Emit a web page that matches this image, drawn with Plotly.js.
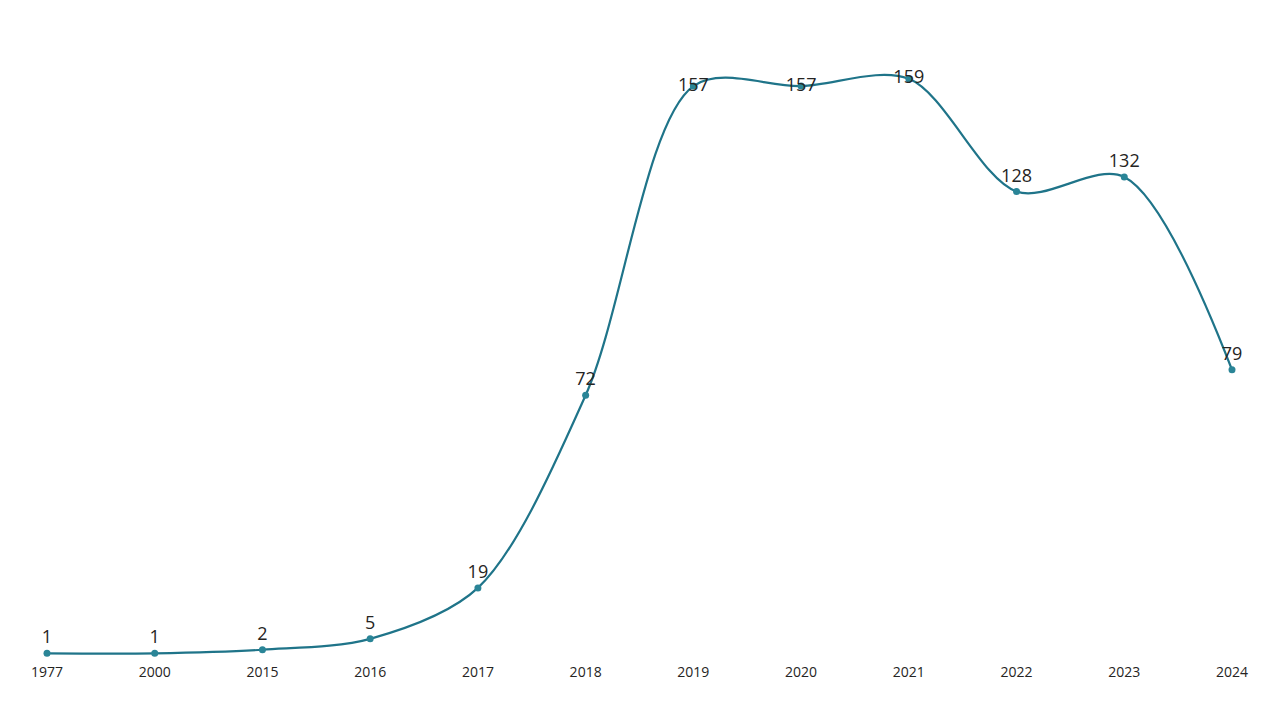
<!DOCTYPE html>
<html><head><meta charset="utf-8">
<script src="https://cdn.plot.ly/plotly-3.0.1.min.js"></script>
<style>html,body{margin:0;padding:0;background:#fff}#chart{width:1280px;height:720px}</style>
</head><body><div id="chart"></div>
<script>
const years = ["1977","2000","2015","2016","2017","2018","2019","2020","2021","2022","2023","2024"];
const counts = [1,1,2,5,19,72,157,157,159,128,132,79];
const labelPositions = ["top center","top center","top center","top center","top center","top center","middle center","middle center","middle center","top center","top center","top center"];

const trace = {
  x: years, y: counts, type: "scatter", mode: "lines+markers+text",
  line: {shape: "spline", smoothing: 0.9, color: "#1f7489", width: 2.2},
  marker: {color: "#2a8597", size: 7},
  text: counts.map(String), textposition: labelPositions,
  textfont: {family: "Open Sans, Noto Sans, sans-serif", size: 18, color: "#252423"},
  cliponaxis: false, hoverinfo: "x+y"
};
const layout = {
  width: 1280, height: 720,
  margin: {l: 47, r: 48, t: 57, b: 63},
  paper_bgcolor: "#fff", plot_bgcolor: "#fff",
  showlegend: false,
  xaxis: {type: "category", range: [0, 11], showgrid: false, zeroline: false, showline: false,
    ticks: "", ticklabelstandoff: 5,
    tickfont: {family: "Open Sans, Noto Sans, sans-serif", size: 14, color: "#252423"}},
  yaxis: {range: [0, 165], visible: false, showgrid: false, zeroline: false},
  font: {family: "Open Sans, Noto Sans, sans-serif"}
};
Plotly.newPlot("chart", [trace], layout, {displayModeBar: false, staticPlot: true});
</script></body></html>
